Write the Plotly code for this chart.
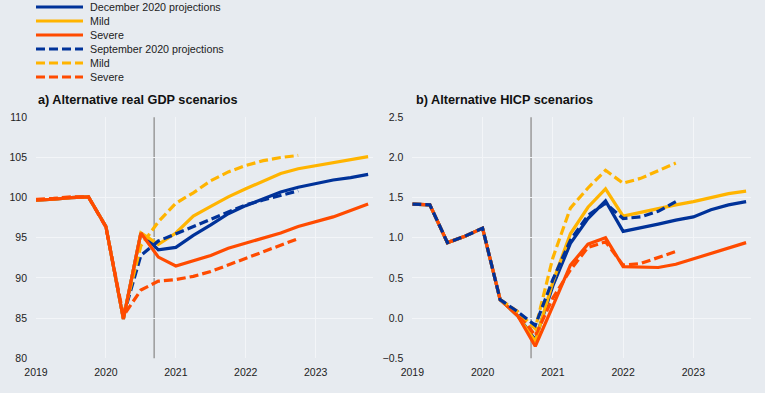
import plotly.graph_objects as go

# ---------------- data ----------------
quarters = [2019 + k / 4 for k in range(20)]  # 2019Q1 ... 2023Q4
year_ticks = [2019, 2020, 2021, 2022, 2023]
year_labels = ["2019", "2020", "2021", "2022", "2023"]
cutoff = 2020.69

series_names = ["December 2020 projections", "Mild", "Severe",
                "September 2020 projections", "Mild", "Severe"]

# a) real GDP (index)
gdp_dec_base = [99.7, 99.8, 100.0, 100.1, 96.4, 84.9, 95.6, 93.5, 93.8, 95.3,
                96.6, 98.0, 99.0, 99.9, 100.7, 101.3, 101.8, 102.2, 102.5, 102.9]
gdp_dec_mild = [99.7, 99.8, 100.0, 100.1, 96.4, 84.9, 95.6, 94.2, 95.6, 97.7,
                98.9, 100.1, 101.1, 102.1, 103.0, 103.6, 104.0, 104.4, 104.8, 105.1]
gdp_dec_severe = [99.7, 99.8, 100.0, 100.1, 96.4, 84.9, 95.6, 92.6, 91.5, 92.1,
                  92.8, 93.7, 94.3, 94.9, 95.6, 96.4, 97.0, 97.6, 98.4, 99.2]
gdp_sep_base = [None, None, None, None, None, 85.3, 92.8, 94.6, 95.5, 96.3,
                97.2, 98.2, 99.1, 99.7, 100.3, 100.85]
gdp_sep_mild = [None, None, None, None, None, 85.3, 94.0, 97.0, 99.3, 100.6,
                102.1, 103.2, 104.0, 104.6, 105.0, 105.25]
gdp_sep_severe = [99.8, 99.9, 100.1, 100.1, 96.3, 85.3, 88.5, 89.6, 89.8, 90.2,
                  90.8, 91.6, 92.4, 93.2, 94.0, 94.9]

# b) HICP (annual % change)
hicp_dec_base = [1.42, 1.41, 0.94, 1.02, 1.12, 0.23, 0.03, -0.27, 0.40, 0.93,
                 1.24, 1.46, 1.08, 1.12, 1.17, 1.22, 1.26, 1.35, 1.41, 1.45]
hicp_dec_mild = [1.42, 1.41, 0.94, 1.02, 1.12, 0.23, 0.03, -0.29, 0.45, 1.05,
                 1.38, 1.61, 1.27, 1.32, 1.37, 1.41, 1.45, 1.50, 1.55, 1.58]
hicp_dec_severe = [1.42, 1.41, 0.94, 1.02, 1.12, 0.23, 0.03, -0.35, 0.15, 0.66,
                   0.92, 1.00, 0.64, 0.63, 0.63, 0.67, 0.74, 0.80, 0.87, 0.94]
hicp_sep_base = [1.42, 1.41, 0.94, 1.02, 1.12, 0.23, 0.08, -0.09, 0.48, 0.97,
                 1.28, 1.43, 1.24, 1.26, 1.33, 1.45]
hicp_sep_mild = [None, None, None, None, None, 0.23, 0.08, -0.13, 0.75, 1.37,
                 1.62, 1.84, 1.68, 1.74, 1.83, 1.93]
hicp_sep_severe = [None, None, None, None, None, 0.23, 0.08, -0.22, 0.25, 0.60,
                   0.88, 0.95, 0.66, 0.68, 0.76, 0.83]

# ---------------- style ----------------
BLUE, YELLOW, RED = "#003299", "#FFB400", "#FF4B00"
BG = "#E7EBF0"
GRID = "#F3F5F8"
FONT = "Liberation Sans, Arial, sans-serif"
W, H = 765, 393
LW = 3.2
DASH = "9px,4px"

legend_colors = [BLUE, YELLOW, RED, BLUE, YELLOW, RED]
legend_dashes = ["solid", "solid", "solid", DASH, DASH, DASH]

fig = go.Figure()

def add(x, y, color, dash, name, xa, ya):
    fig.add_trace(go.Scatter(
        x=x[:len(y)], y=y, mode="lines", name=name,
        line=dict(color=color, width=LW, dash=dash),
        xaxis=xa, yaxis=ya, showlegend=False,
        connectgaps=False, hoverinfo="skip"))

# panel a
add(quarters, gdp_dec_base, BLUE, "solid", series_names[0], "x", "y")
add(quarters, gdp_dec_mild, YELLOW, "solid", series_names[1], "x", "y")
add(quarters, gdp_sep_base, BLUE, DASH, series_names[3], "x", "y")
add(quarters, gdp_sep_mild, YELLOW, DASH, series_names[4], "x", "y")
add(quarters, gdp_dec_severe, RED, "solid", series_names[2], "x", "y")
add(quarters, gdp_sep_severe, RED, DASH, series_names[5], "x", "y")

# panel b
add(quarters, hicp_dec_base, BLUE, "solid", series_names[0], "x2", "y2")
add(quarters, hicp_dec_mild, YELLOW, "solid", series_names[1], "x2", "y2")
add(quarters, hicp_dec_severe, RED, "solid", series_names[2], "x2", "y2")
add(quarters, hicp_sep_severe, RED, DASH, series_names[5], "x2", "y2")
add(quarters, hicp_sep_mild, YELLOW, DASH, series_names[4], "x2", "y2")
add(quarters, hicp_sep_base, BLUE, DASH, series_names[3], "x2", "y2")

ybot, ytop = 1 - 358.3 / H, 1 - 117.3 / H
xcommon = dict(range=[2019, 2023.82], tickvals=year_ticks, ticktext=year_labels,
               showgrid=True, gridcolor=GRID, gridwidth=1, zeroline=False,
               showline=False, ticks="", ticklabelstandoff=6, automargin=False,
               tickfont=dict(family=FONT, size=10.5, color="#222"))
ycommon = dict(showgrid=True, gridcolor=GRID, gridwidth=1, zeroline=False,
               showline=False, ticks="", ticklabelstandoff=8, automargin=False,
               tickfont=dict(family=FONT, size=10.5, color="#222"),
               domain=[ybot, ytop])

# legend drawn as key lines + labels (compact rows as in the reference)
shapes = []
annotations = []
for i, (nm, col, ds) in enumerate(zip(series_names, legend_colors, legend_dashes)):
    yc = 1 - (7 + 14 * i) / H
    shapes.append(dict(type="line", xref="paper", yref="paper",
                       x0=36 / W, x1=83 / W, y0=yc, y1=yc,
                       line=dict(color=col, width=LW, dash=ds)))
    annotations.append(dict(text=nm, xref="paper", yref="paper", x=88 / W, y=yc,
                            xanchor="left", yanchor="middle", showarrow=False,
                            font=dict(family=FONT, size=10.7, color="#222")))

shapes += [
    dict(type="line", xref="x", yref="y domain", x0=cutoff, x1=cutoff, y0=0, y1=1,
         line=dict(color="#9A9A9A", width=1.5), layer="below"),
    dict(type="line", xref="x2", yref="y2 domain", x0=cutoff, x1=cutoff, y0=0, y1=1,
         line=dict(color="#9A9A9A", width=1.5), layer="below"),
]
annotations += [
    dict(text="<b>a) Alternative real GDP scenarios</b>", xref="paper", yref="paper",
         x=36 / W, y=1 - 100 / H, xanchor="left", yanchor="middle", showarrow=False,
         font=dict(family=FONT, size=12.7, color="#111")),
    dict(text="<b>b) Alternative HICP scenarios</b>", xref="paper", yref="paper",
         x=414 / W, y=1 - 100 / H, xanchor="left", yanchor="middle", showarrow=False,
         font=dict(family=FONT, size=12.7, color="#111")),
]

fig.update_layout(
    width=W, height=H, autosize=False,
    margin=dict(l=0, r=0, t=0, b=0, pad=0, autoexpand=False),
    paper_bgcolor=BG, plot_bgcolor=BG,
    font=dict(family=FONT, color="#222"),
    xaxis=dict(domain=[36 / W, 373 / W], anchor="y", **xcommon),
    yaxis=dict(range=[80, 110], dtick=5, anchor="x", **ycommon),
    xaxis2=dict(domain=[412.3 / W, 751 / W], anchor="y2", **xcommon),
    yaxis2=dict(range=[-0.5, 2.5], dtick=0.5, tickformat=".1f", anchor="x2", **ycommon),
    showlegend=False,
    shapes=shapes,
    annotations=annotations,
)

fig.write_html("out.html",
               config={"displayModeBar": False, "responsive": False},
               post_script="document.body.style.margin='0';document.body.style.overflow='hidden';")
